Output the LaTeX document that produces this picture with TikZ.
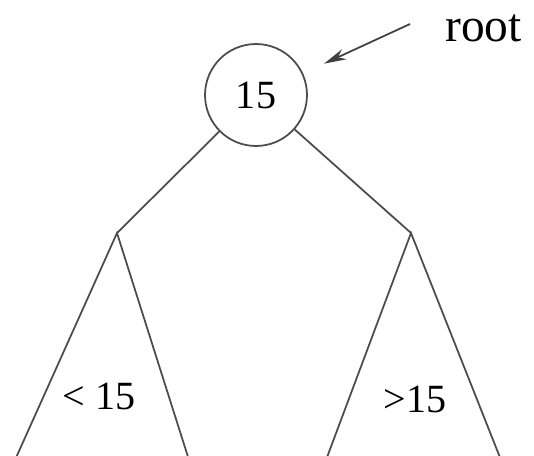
\documentclass[tikz,border=0pt]{standalone}
\usepackage{fontspec}
\setmainfont{Liberation Serif}
\usetikzlibrary{arrows.meta}

\begin{document}
\begin{tikzpicture}[
	x=0.02cm, y=-0.02cm,
	every node/.style={font=\fontsize{22.8}{26}\selectfont},
	key/.style={circle, draw=black!70, line width=1pt, minimum size=2.04cm, inner sep=0pt},
	edge/.style={draw=black!70, line width=1pt},
	bound/.style={anchor=base, inner sep=0pt},
	pointer/.style={-{Stealth[length=0.45cm, width=0.22cm]}, draw=black!75, line width=1pt, shorten >=0.46cm}
]
\useasboundingbox (0,0) rectangle (534,456);

% Root key and its name
\node[key] (root) at (256,95) {15};
\node[anchor=base west, inner sep=0pt, font=\fontsize{27}{30}\selectfont] (rootname) at (445,42) {root};
\coordinate (tail) at (410,24);
\draw[pointer] (tail) -- (root);

% Apexes and feet of the two subtrees
\coordinate (lapex) at (117,233);
\coordinate (rapex) at (411,233);
\coordinate (lleft) at (15,460);
\coordinate (lright) at (189,460);
\coordinate (rleft) at (326,460);
\coordinate (rright) at (501,460);

% Edges
\draw[edge] (root) -- (lapex);
\draw[edge] (root) -- (rapex);
\draw[edge] (lleft) -- (lapex) -- (lright);
\draw[edge] (rleft) -- (rapex) -- (rright);

% Subtree bounds
\node[bound] (lbound) at (99,409) {< 15};
\node[bound] (rbound) at (415,412) {>15};

\end{tikzpicture}
\end{document}
